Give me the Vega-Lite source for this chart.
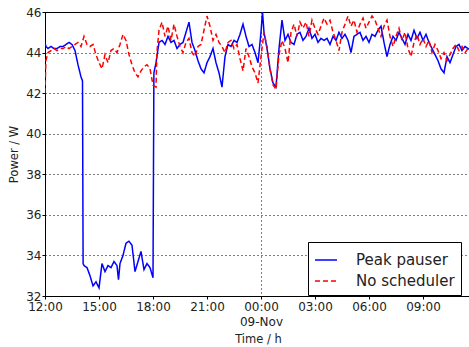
{
  "$schema": "https://vega.github.io/schema/vega-lite/v6.json",
  "width": 426,
  "height": 284,
  "autosize": {"type": "none"},
  "padding": {"left": 45, "top": 12, "right": 0, "bottom": 51},
  "background": "white",
  "config": {
    "view": {"stroke": "black", "strokeWidth": 1},
    "font": "DejaVu Sans",
    "axis": {"domainColor": "black", "tickColor": "black", "labelColor": "#222", "titleColor": "#222", "labelFont": "DejaVu Sans", "titleFont": "DejaVu Sans", "labelFontSize": 12, "titleFontSize": 11.5, "titleFontWeight": "normal", "gridColor": "black", "gridDash": [1, 3], "gridWidth": 1, "tickSize": 3}
  },
  "data": {"values": [
    {"s":"Peak pauser","t":"2013-11-08T12:00","v":44.5},
    {"s":"Peak pauser","t":"2013-11-08T12:03","v":44.3},
    {"s":"Peak pauser","t":"2013-11-08T12:10","v":44.2},
    {"s":"Peak pauser","t":"2013-11-08T12:20","v":44.3},
    {"s":"Peak pauser","t":"2013-11-08T12:30","v":44.2},
    {"s":"Peak pauser","t":"2013-11-08T12:40","v":44.2},
    {"s":"Peak pauser","t":"2013-11-08T12:50","v":44.3},
    {"s":"Peak pauser","t":"2013-11-08T13:00","v":44.3},
    {"s":"Peak pauser","t":"2013-11-08T13:10","v":44.4},
    {"s":"Peak pauser","t":"2013-11-08T13:20","v":44.5},
    {"s":"Peak pauser","t":"2013-11-08T13:30","v":44.4},
    {"s":"Peak pauser","t":"2013-11-08T13:40","v":44.1},
    {"s":"Peak pauser","t":"2013-11-08T13:50","v":43.4},
    {"s":"Peak pauser","t":"2013-11-08T14:00","v":42.8},
    {"s":"Peak pauser","t":"2013-11-08T14:05","v":42.6},
    {"s":"Peak pauser","t":"2013-11-08T14:07","v":33.6},
    {"s":"Peak pauser","t":"2013-11-08T14:10","v":33.5},
    {"s":"Peak pauser","t":"2013-11-08T14:20","v":33.4},
    {"s":"Peak pauser","t":"2013-11-08T14:30","v":33.0},
    {"s":"Peak pauser","t":"2013-11-08T14:40","v":32.5},
    {"s":"Peak pauser","t":"2013-11-08T14:50","v":32.7},
    {"s":"Peak pauser","t":"2013-11-08T15:00","v":32.4},
    {"s":"Peak pauser","t":"2013-11-08T15:10","v":33.6},
    {"s":"Peak pauser","t":"2013-11-08T15:20","v":33.2},
    {"s":"Peak pauser","t":"2013-11-08T15:30","v":33.5},
    {"s":"Peak pauser","t":"2013-11-08T15:40","v":33.4},
    {"s":"Peak pauser","t":"2013-11-08T15:50","v":33.7},
    {"s":"Peak pauser","t":"2013-11-08T16:00","v":33.5},
    {"s":"Peak pauser","t":"2013-11-08T16:05","v":32.8},
    {"s":"Peak pauser","t":"2013-11-08T16:10","v":33.6},
    {"s":"Peak pauser","t":"2013-11-08T16:20","v":34.0},
    {"s":"Peak pauser","t":"2013-11-08T16:30","v":34.6},
    {"s":"Peak pauser","t":"2013-11-08T16:40","v":34.7},
    {"s":"Peak pauser","t":"2013-11-08T16:50","v":34.5},
    {"s":"Peak pauser","t":"2013-11-08T17:00","v":33.2},
    {"s":"Peak pauser","t":"2013-11-08T17:10","v":33.7},
    {"s":"Peak pauser","t":"2013-11-08T17:20","v":34.2},
    {"s":"Peak pauser","t":"2013-11-08T17:30","v":33.3},
    {"s":"Peak pauser","t":"2013-11-08T17:40","v":33.6},
    {"s":"Peak pauser","t":"2013-11-08T17:50","v":33.4},
    {"s":"Peak pauser","t":"2013-11-08T18:00","v":32.9},
    {"s":"Peak pauser","t":"2013-11-08T18:03","v":43.0},
    {"s":"Peak pauser","t":"2013-11-08T18:10","v":43.5},
    {"s":"Peak pauser","t":"2013-11-08T18:20","v":44.5},
    {"s":"Peak pauser","t":"2013-11-08T18:30","v":44.6},
    {"s":"Peak pauser","t":"2013-11-08T18:40","v":44.4},
    {"s":"Peak pauser","t":"2013-11-08T18:50","v":44.8},
    {"s":"Peak pauser","t":"2013-11-08T19:00","v":44.5},
    {"s":"Peak pauser","t":"2013-11-08T19:10","v":44.6},
    {"s":"Peak pauser","t":"2013-11-08T19:20","v":44.2},
    {"s":"Peak pauser","t":"2013-11-08T19:30","v":44.4},
    {"s":"Peak pauser","t":"2013-11-08T19:40","v":44.5},
    {"s":"Peak pauser","t":"2013-11-08T19:50","v":45.0},
    {"s":"Peak pauser","t":"2013-11-08T20:00","v":45.5},
    {"s":"Peak pauser","t":"2013-11-08T20:10","v":44.5},
    {"s":"Peak pauser","t":"2013-11-08T20:20","v":44.1},
    {"s":"Peak pauser","t":"2013-11-08T20:30","v":43.6},
    {"s":"Peak pauser","t":"2013-11-08T20:40","v":43.2},
    {"s":"Peak pauser","t":"2013-11-08T20:50","v":43.0},
    {"s":"Peak pauser","t":"2013-11-08T21:00","v":43.5},
    {"s":"Peak pauser","t":"2013-11-08T21:10","v":43.8},
    {"s":"Peak pauser","t":"2013-11-08T21:20","v":44.2},
    {"s":"Peak pauser","t":"2013-11-08T21:30","v":43.5},
    {"s":"Peak pauser","t":"2013-11-08T21:40","v":43.0},
    {"s":"Peak pauser","t":"2013-11-08T21:50","v":42.3},
    {"s":"Peak pauser","t":"2013-11-08T22:00","v":43.8},
    {"s":"Peak pauser","t":"2013-11-08T22:10","v":44.4},
    {"s":"Peak pauser","t":"2013-11-08T22:20","v":44.3},
    {"s":"Peak pauser","t":"2013-11-08T22:30","v":44.6},
    {"s":"Peak pauser","t":"2013-11-08T22:40","v":44.5},
    {"s":"Peak pauser","t":"2013-11-08T22:50","v":44.9},
    {"s":"Peak pauser","t":"2013-11-08T23:00","v":45.4},
    {"s":"Peak pauser","t":"2013-11-08T23:10","v":44.8},
    {"s":"Peak pauser","t":"2013-11-08T23:20","v":44.3},
    {"s":"Peak pauser","t":"2013-11-08T23:30","v":44.4},
    {"s":"Peak pauser","t":"2013-11-08T23:40","v":44.0},
    {"s":"Peak pauser","t":"2013-11-08T23:50","v":43.5},
    {"s":"Peak pauser","t":"2013-11-09T00:00","v":45.0},
    {"s":"Peak pauser","t":"2013-11-09T00:05","v":46.0},
    {"s":"Peak pauser","t":"2013-11-09T00:10","v":45.0},
    {"s":"Peak pauser","t":"2013-11-09T00:20","v":44.2},
    {"s":"Peak pauser","t":"2013-11-09T00:30","v":43.2},
    {"s":"Peak pauser","t":"2013-11-09T00:40","v":42.5},
    {"s":"Peak pauser","t":"2013-11-09T00:50","v":42.3},
    {"s":"Peak pauser","t":"2013-11-09T01:00","v":44.2},
    {"s":"Peak pauser","t":"2013-11-09T01:10","v":45.6},
    {"s":"Peak pauser","t":"2013-11-09T01:20","v":44.6},
    {"s":"Peak pauser","t":"2013-11-09T01:30","v":44.9},
    {"s":"Peak pauser","t":"2013-11-09T01:40","v":44.5},
    {"s":"Peak pauser","t":"2013-11-09T01:50","v":44.4},
    {"s":"Peak pauser","t":"2013-11-09T02:00","v":44.9},
    {"s":"Peak pauser","t":"2013-11-09T02:10","v":45.0},
    {"s":"Peak pauser","t":"2013-11-09T02:20","v":44.6},
    {"s":"Peak pauser","t":"2013-11-09T02:30","v":44.8},
    {"s":"Peak pauser","t":"2013-11-09T02:40","v":45.2},
    {"s":"Peak pauser","t":"2013-11-09T02:50","v":44.7},
    {"s":"Peak pauser","t":"2013-11-09T03:00","v":44.9},
    {"s":"Peak pauser","t":"2013-11-09T03:10","v":44.5},
    {"s":"Peak pauser","t":"2013-11-09T03:20","v":44.7},
    {"s":"Peak pauser","t":"2013-11-09T03:30","v":44.6},
    {"s":"Peak pauser","t":"2013-11-09T03:40","v":44.7},
    {"s":"Peak pauser","t":"2013-11-09T03:50","v":44.4},
    {"s":"Peak pauser","t":"2013-11-09T04:00","v":44.8},
    {"s":"Peak pauser","t":"2013-11-09T04:10","v":44.6},
    {"s":"Peak pauser","t":"2013-11-09T04:20","v":45.0},
    {"s":"Peak pauser","t":"2013-11-09T04:30","v":44.7},
    {"s":"Peak pauser","t":"2013-11-09T04:40","v":44.9},
    {"s":"Peak pauser","t":"2013-11-09T04:50","v":44.6},
    {"s":"Peak pauser","t":"2013-11-09T05:00","v":44.0},
    {"s":"Peak pauser","t":"2013-11-09T05:10","v":44.8},
    {"s":"Peak pauser","t":"2013-11-09T05:20","v":44.9},
    {"s":"Peak pauser","t":"2013-11-09T05:30","v":45.0},
    {"s":"Peak pauser","t":"2013-11-09T05:40","v":44.6},
    {"s":"Peak pauser","t":"2013-11-09T05:50","v":44.8},
    {"s":"Peak pauser","t":"2013-11-09T06:00","v":44.5},
    {"s":"Peak pauser","t":"2013-11-09T06:10","v":44.9},
    {"s":"Peak pauser","t":"2013-11-09T06:20","v":44.8},
    {"s":"Peak pauser","t":"2013-11-09T06:30","v":45.1},
    {"s":"Peak pauser","t":"2013-11-09T06:40","v":45.3},
    {"s":"Peak pauser","t":"2013-11-09T06:50","v":44.5},
    {"s":"Peak pauser","t":"2013-11-09T07:00","v":43.8},
    {"s":"Peak pauser","t":"2013-11-09T07:10","v":44.4},
    {"s":"Peak pauser","t":"2013-11-09T07:20","v":44.8},
    {"s":"Peak pauser","t":"2013-11-09T07:30","v":44.6},
    {"s":"Peak pauser","t":"2013-11-09T07:40","v":45.0},
    {"s":"Peak pauser","t":"2013-11-09T07:50","v":44.7},
    {"s":"Peak pauser","t":"2013-11-09T08:00","v":44.4},
    {"s":"Peak pauser","t":"2013-11-09T08:10","v":44.9},
    {"s":"Peak pauser","t":"2013-11-09T08:20","v":44.6},
    {"s":"Peak pauser","t":"2013-11-09T08:30","v":45.1},
    {"s":"Peak pauser","t":"2013-11-09T08:40","v":44.7},
    {"s":"Peak pauser","t":"2013-11-09T08:50","v":45.0},
    {"s":"Peak pauser","t":"2013-11-09T09:00","v":44.6},
    {"s":"Peak pauser","t":"2013-11-09T09:10","v":44.9},
    {"s":"Peak pauser","t":"2013-11-09T09:20","v":44.5},
    {"s":"Peak pauser","t":"2013-11-09T09:30","v":44.2},
    {"s":"Peak pauser","t":"2013-11-09T09:40","v":43.9},
    {"s":"Peak pauser","t":"2013-11-09T09:50","v":43.6},
    {"s":"Peak pauser","t":"2013-11-09T10:00","v":43.2},
    {"s":"Peak pauser","t":"2013-11-09T10:10","v":43.0},
    {"s":"Peak pauser","t":"2013-11-09T10:20","v":43.8},
    {"s":"Peak pauser","t":"2013-11-09T10:30","v":43.5},
    {"s":"Peak pauser","t":"2013-11-09T10:40","v":43.9},
    {"s":"Peak pauser","t":"2013-11-09T10:50","v":44.3},
    {"s":"Peak pauser","t":"2013-11-09T11:00","v":44.4},
    {"s":"Peak pauser","t":"2013-11-09T11:10","v":44.1},
    {"s":"Peak pauser","t":"2013-11-09T11:20","v":44.3},
    {"s":"Peak pauser","t":"2013-11-09T11:30","v":44.2},
    {"s":"Peak pauser","t":"2013-11-09T11:40","v":44.1},
    {"s":"No scheduler","t":"2013-11-08T12:00","v":42.0},
    {"s":"No scheduler","t":"2013-11-08T12:03","v":43.6},
    {"s":"No scheduler","t":"2013-11-08T12:10","v":44.0},
    {"s":"No scheduler","t":"2013-11-08T12:20","v":44.1},
    {"s":"No scheduler","t":"2013-11-08T12:30","v":44.2},
    {"s":"No scheduler","t":"2013-11-08T12:40","v":44.1},
    {"s":"No scheduler","t":"2013-11-08T12:50","v":44.2},
    {"s":"No scheduler","t":"2013-11-08T13:00","v":44.2},
    {"s":"No scheduler","t":"2013-11-08T13:10","v":44.3},
    {"s":"No scheduler","t":"2013-11-08T13:20","v":44.2},
    {"s":"No scheduler","t":"2013-11-08T13:30","v":44.3},
    {"s":"No scheduler","t":"2013-11-08T13:40","v":44.4},
    {"s":"No scheduler","t":"2013-11-08T13:50","v":44.5},
    {"s":"No scheduler","t":"2013-11-08T14:00","v":44.3},
    {"s":"No scheduler","t":"2013-11-08T14:10","v":44.8},
    {"s":"No scheduler","t":"2013-11-08T14:20","v":44.4},
    {"s":"No scheduler","t":"2013-11-08T14:30","v":44.3},
    {"s":"No scheduler","t":"2013-11-08T14:40","v":44.4},
    {"s":"No scheduler","t":"2013-11-08T14:50","v":43.9},
    {"s":"No scheduler","t":"2013-11-08T15:00","v":43.5},
    {"s":"No scheduler","t":"2013-11-08T15:10","v":43.2},
    {"s":"No scheduler","t":"2013-11-08T15:20","v":43.9},
    {"s":"No scheduler","t":"2013-11-08T15:30","v":43.5},
    {"s":"No scheduler","t":"2013-11-08T15:40","v":44.1},
    {"s":"No scheduler","t":"2013-11-08T15:50","v":44.2},
    {"s":"No scheduler","t":"2013-11-08T16:00","v":44.0},
    {"s":"No scheduler","t":"2013-11-08T16:10","v":44.4},
    {"s":"No scheduler","t":"2013-11-08T16:20","v":44.9},
    {"s":"No scheduler","t":"2013-11-08T16:30","v":44.6},
    {"s":"No scheduler","t":"2013-11-08T16:40","v":43.9},
    {"s":"No scheduler","t":"2013-11-08T16:50","v":43.4},
    {"s":"No scheduler","t":"2013-11-08T17:00","v":43.0},
    {"s":"No scheduler","t":"2013-11-08T17:10","v":42.8},
    {"s":"No scheduler","t":"2013-11-08T17:20","v":43.1},
    {"s":"No scheduler","t":"2013-11-08T17:30","v":43.3},
    {"s":"No scheduler","t":"2013-11-08T17:40","v":43.4},
    {"s":"No scheduler","t":"2013-11-08T17:50","v":43.2},
    {"s":"No scheduler","t":"2013-11-08T18:00","v":42.4},
    {"s":"No scheduler","t":"2013-11-08T18:10","v":42.3},
    {"s":"No scheduler","t":"2013-11-08T18:13","v":44.0},
    {"s":"No scheduler","t":"2013-11-08T18:20","v":45.1},
    {"s":"No scheduler","t":"2013-11-08T18:30","v":45.5},
    {"s":"No scheduler","t":"2013-11-08T18:40","v":44.8},
    {"s":"No scheduler","t":"2013-11-08T18:50","v":45.3},
    {"s":"No scheduler","t":"2013-11-08T19:00","v":44.6},
    {"s":"No scheduler","t":"2013-11-08T19:10","v":45.4},
    {"s":"No scheduler","t":"2013-11-08T19:20","v":44.8},
    {"s":"No scheduler","t":"2013-11-08T19:30","v":44.3},
    {"s":"No scheduler","t":"2013-11-08T19:40","v":44.0},
    {"s":"No scheduler","t":"2013-11-08T19:50","v":44.5},
    {"s":"No scheduler","t":"2013-11-08T20:00","v":44.7},
    {"s":"No scheduler","t":"2013-11-08T20:10","v":44.0},
    {"s":"No scheduler","t":"2013-11-08T20:20","v":43.8},
    {"s":"No scheduler","t":"2013-11-08T20:30","v":44.3},
    {"s":"No scheduler","t":"2013-11-08T20:40","v":44.4},
    {"s":"No scheduler","t":"2013-11-08T20:50","v":45.1},
    {"s":"No scheduler","t":"2013-11-08T21:00","v":45.8},
    {"s":"No scheduler","t":"2013-11-08T21:10","v":45.3},
    {"s":"No scheduler","t":"2013-11-08T21:20","v":44.6},
    {"s":"No scheduler","t":"2013-11-08T21:30","v":44.9},
    {"s":"No scheduler","t":"2013-11-08T21:40","v":44.5},
    {"s":"No scheduler","t":"2013-11-08T21:50","v":44.3},
    {"s":"No scheduler","t":"2013-11-08T22:00","v":44.0},
    {"s":"No scheduler","t":"2013-11-08T22:10","v":44.5},
    {"s":"No scheduler","t":"2013-11-08T22:20","v":44.6},
    {"s":"No scheduler","t":"2013-11-08T22:30","v":44.2},
    {"s":"No scheduler","t":"2013-11-08T22:40","v":44.4},
    {"s":"No scheduler","t":"2013-11-08T22:50","v":43.7},
    {"s":"No scheduler","t":"2013-11-08T23:00","v":43.1},
    {"s":"No scheduler","t":"2013-11-08T23:10","v":44.2},
    {"s":"No scheduler","t":"2013-11-08T23:20","v":43.8},
    {"s":"No scheduler","t":"2013-11-08T23:30","v":43.3},
    {"s":"No scheduler","t":"2013-11-08T23:40","v":43.0},
    {"s":"No scheduler","t":"2013-11-08T23:50","v":42.5},
    {"s":"No scheduler","t":"2013-11-09T00:00","v":43.8},
    {"s":"No scheduler","t":"2013-11-09T00:10","v":45.0},
    {"s":"No scheduler","t":"2013-11-09T00:20","v":44.3},
    {"s":"No scheduler","t":"2013-11-09T00:30","v":43.2},
    {"s":"No scheduler","t":"2013-11-09T00:40","v":42.4},
    {"s":"No scheduler","t":"2013-11-09T00:50","v":42.2},
    {"s":"No scheduler","t":"2013-11-09T01:00","v":43.9},
    {"s":"No scheduler","t":"2013-11-09T01:10","v":44.6},
    {"s":"No scheduler","t":"2013-11-09T01:20","v":44.2},
    {"s":"No scheduler","t":"2013-11-09T01:30","v":43.5},
    {"s":"No scheduler","t":"2013-11-09T01:40","v":45.0},
    {"s":"No scheduler","t":"2013-11-09T01:50","v":45.4},
    {"s":"No scheduler","t":"2013-11-09T02:00","v":44.8},
    {"s":"No scheduler","t":"2013-11-09T02:10","v":45.5},
    {"s":"No scheduler","t":"2013-11-09T02:20","v":45.2},
    {"s":"No scheduler","t":"2013-11-09T02:30","v":45.5},
    {"s":"No scheduler","t":"2013-11-09T02:40","v":44.8},
    {"s":"No scheduler","t":"2013-11-09T02:50","v":45.6},
    {"s":"No scheduler","t":"2013-11-09T03:00","v":45.2},
    {"s":"No scheduler","t":"2013-11-09T03:10","v":44.9},
    {"s":"No scheduler","t":"2013-11-09T03:20","v":45.3},
    {"s":"No scheduler","t":"2013-11-09T03:30","v":45.7},
    {"s":"No scheduler","t":"2013-11-09T03:40","v":45.4},
    {"s":"No scheduler","t":"2013-11-09T03:50","v":45.6},
    {"s":"No scheduler","t":"2013-11-09T04:00","v":45.0},
    {"s":"No scheduler","t":"2013-11-09T04:10","v":44.6},
    {"s":"No scheduler","t":"2013-11-09T04:20","v":44.1},
    {"s":"No scheduler","t":"2013-11-09T04:30","v":45.0},
    {"s":"No scheduler","t":"2013-11-09T04:40","v":45.4},
    {"s":"No scheduler","t":"2013-11-09T04:50","v":45.8},
    {"s":"No scheduler","t":"2013-11-09T05:00","v":45.3},
    {"s":"No scheduler","t":"2013-11-09T05:10","v":45.6},
    {"s":"No scheduler","t":"2013-11-09T05:20","v":45.0},
    {"s":"No scheduler","t":"2013-11-09T05:30","v":45.4},
    {"s":"No scheduler","t":"2013-11-09T05:40","v":45.7},
    {"s":"No scheduler","t":"2013-11-09T05:50","v":45.2},
    {"s":"No scheduler","t":"2013-11-09T06:00","v":45.5},
    {"s":"No scheduler","t":"2013-11-09T06:10","v":45.8},
    {"s":"No scheduler","t":"2013-11-09T06:20","v":45.6},
    {"s":"No scheduler","t":"2013-11-09T06:30","v":45.2},
    {"s":"No scheduler","t":"2013-11-09T06:40","v":44.8},
    {"s":"No scheduler","t":"2013-11-09T06:50","v":45.3},
    {"s":"No scheduler","t":"2013-11-09T07:00","v":45.6},
    {"s":"No scheduler","t":"2013-11-09T07:10","v":44.8},
    {"s":"No scheduler","t":"2013-11-09T07:20","v":44.3},
    {"s":"No scheduler","t":"2013-11-09T07:30","v":44.8},
    {"s":"No scheduler","t":"2013-11-09T07:40","v":45.2},
    {"s":"No scheduler","t":"2013-11-09T07:50","v":44.6},
    {"s":"No scheduler","t":"2013-11-09T08:00","v":45.0},
    {"s":"No scheduler","t":"2013-11-09T08:10","v":44.2},
    {"s":"No scheduler","t":"2013-11-09T08:20","v":43.8},
    {"s":"No scheduler","t":"2013-11-09T08:30","v":44.5},
    {"s":"No scheduler","t":"2013-11-09T08:40","v":44.9},
    {"s":"No scheduler","t":"2013-11-09T08:50","v":44.4},
    {"s":"No scheduler","t":"2013-11-09T09:00","v":44.7},
    {"s":"No scheduler","t":"2013-11-09T09:10","v":44.3},
    {"s":"No scheduler","t":"2013-11-09T09:20","v":44.6},
    {"s":"No scheduler","t":"2013-11-09T09:30","v":44.0},
    {"s":"No scheduler","t":"2013-11-09T09:40","v":44.4},
    {"s":"No scheduler","t":"2013-11-09T09:50","v":44.1},
    {"s":"No scheduler","t":"2013-11-09T10:00","v":43.7},
    {"s":"No scheduler","t":"2013-11-09T10:10","v":44.0},
    {"s":"No scheduler","t":"2013-11-09T10:20","v":43.6},
    {"s":"No scheduler","t":"2013-11-09T10:30","v":43.9},
    {"s":"No scheduler","t":"2013-11-09T10:40","v":44.2},
    {"s":"No scheduler","t":"2013-11-09T10:50","v":44.4},
    {"s":"No scheduler","t":"2013-11-09T11:00","v":44.1},
    {"s":"No scheduler","t":"2013-11-09T11:10","v":44.3},
    {"s":"No scheduler","t":"2013-11-09T11:20","v":44.0},
    {"s":"No scheduler","t":"2013-11-09T11:30","v":44.2},
    {"s":"No scheduler","t":"2013-11-09T11:40","v":44.1}
  ]},
  "mark": {"type": "line", "strokeWidth": 1.5, "clip": true},
  "encoding": {
    "x": {
      "field": "t", "type": "temporal",
      "scale": {"domain": [{"year": 2013, "month": 11, "date": 8, "hours": 12}, {"year": 2013, "month": 11, "date": 9, "hours": 11, "minutes": 40}], "nice": false},
      "axis": {
        "title": "Time / h",
        "titlePadding": 6,
        "values": [
          {"year": 2013, "month": 11, "date": 8, "hours": 12},
          {"year": 2013, "month": 11, "date": 8, "hours": 15},
          {"year": 2013, "month": 11, "date": 8, "hours": 18},
          {"year": 2013, "month": 11, "date": 8, "hours": 21},
          {"year": 2013, "month": 11, "date": 9, "hours": 0},
          {"year": 2013, "month": 11, "date": 9, "hours": 3},
          {"year": 2013, "month": 11, "date": 9, "hours": 6},
          {"year": 2013, "month": 11, "date": 9, "hours": 9}
        ],
        "labelExpr": "hours(datum.value) == 0 ? [timeFormat(datum.value, '%H:%M'), timeFormat(datum.value, '%d-%b')] : timeFormat(datum.value, '%H:%M')",
        "labelPadding": 2,
        "labelLineHeight": 15,
        "labelFlush": false,
        "labelOverlap": false,
        "labelBound": false,
        "grid": true,
        "gridOpacity": {"condition": {"test": "hours(datum.value) == 0", "value": 1}, "value": 0}
      }
    },
    "y": {
      "field": "v", "type": "quantitative",
      "scale": {"domain": [32, 46], "nice": false, "zero": false},
      "axis": {"title": "Power / W", "values": [32, 34, 36, 38, 40, 42, 44, 46], "grid": true, "labelPadding": 1, "titlePadding": 6, "labelFlush": false, "labelOverlap": false}
    },
    "color": {
      "field": "s", "type": "nominal",
      "scale": {"domain": ["Peak pauser", "No scheduler"], "range": ["#0000ff", "#ff0000"]},
      "legend": {"title": null, "orient": "none", "legendX": 263, "legendY": 230, "strokeColor": "black", "fillColor": "white", "padding": 6, "labelFontSize": 15, "labelFont": "DejaVu Sans", "labelColor": "#222", "symbolType": "stroke", "symbolSize": 484, "symbolStrokeWidth": 1.5, "rowPadding": 1, "labelOffset": 18, "cornerRadius": 0}
    },
    "strokeDash": {
      "field": "s", "type": "nominal",
      "scale": {"domain": ["Peak pauser", "No scheduler"], "range": [[1, 0], [5, 3]]},
      "legend": null
    }
  }
}
